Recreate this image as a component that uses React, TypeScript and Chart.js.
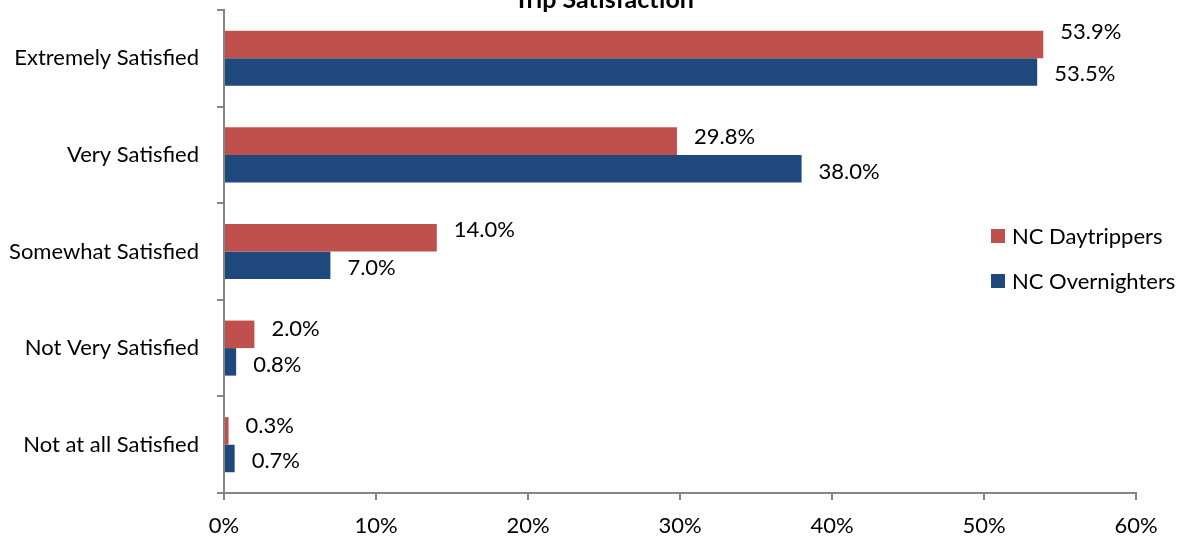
import React, { useEffect, useRef } from "react";
import { Chart, registerables } from "chart.js";

Chart.register(...registerables);

const categories = [
  "Extremely Satisfied",
  "Very Satisfied",
  "Somewhat Satisfied",
  "Not Very Satisfied",
  "Not at all Satisfied",
];
const daytrippers = [53.9, 29.8, 14.0, 2.0, 0.3];
const overnighters = [53.5, 38.0, 7.0, 0.8, 0.7];
const seriesNames = ["NC Daytrippers", "NC Overnighters"];
const xTicks = [0, 10, 20, 30, 40, 50, 60];
const chartTitle = "Trip Satisfaction";

// label vertical nudges (style only)
const labelNudge = [
  [-13, -4, -8, -5, -5],
  [2, 3, 3, 3, 2],
];

const RED = "#C0504D";
const BLUE = "#1F497D";
const FONT = "Lato";
const FS = 22;

const overlay = {
  id: "overlay",
  afterDatasetsDraw(chart: any) {
    const ctx = chart.ctx;
    ctx.save();
    ctx.font = `${FS}px ${FONT}`;
    ctx.fillStyle = "#000";
    ctx.textAlign = "left";
    ctx.textBaseline = "middle";
    chart.data.datasets.forEach((ds: any, di: number) => {
      const meta = chart.getDatasetMeta(di);
      meta.data.forEach((bar: any, i: number) => {
        const v = ds.data[i] as number;
        ctx.fillText(v.toFixed(1) + "%", bar.x + 17, bar.y + labelNudge[di][i]);
      });
    });
    ctx.font = `bold 25px ${FONT}`;
    ctx.textAlign = "center";
    ctx.textBaseline = "alphabetic";
    ctx.fillText(chartTitle, 604, 8);
    const colors = [RED, BLUE];
    const ys = [236, 281];
    ctx.font = `${FS}px ${FONT}`;
    ctx.textAlign = "left";
    ctx.textBaseline = "middle";
    seriesNames.forEach((n, i) => {
      ctx.fillStyle = colors[i];
      ctx.fillRect(991, ys[i] - 7, 14, 14);
      ctx.fillStyle = "#000";
      ctx.fillText(n, 1012, ys[i] + 1);
    });
    ctx.restore();
  },
};

export default function App() {
  const ref = useRef<HTMLCanvasElement>(null);
  useEffect(() => {
    if (!ref.current) return;
    const chart = new Chart(ref.current, {
      type: "bar",
      data: {
        labels: categories,
        datasets: [
          {
            label: seriesNames[0],
            data: daytrippers,
            backgroundColor: RED,
            barPercentage: 1,
            categoryPercentage: 0.57,
          },
          {
            label: seriesNames[1],
            data: overnighters,
            backgroundColor: BLUE,
            barPercentage: 1,
            categoryPercentage: 0.57,
          },
        ],
      },
      options: {
        indexAxis: "y",
        animation: false,
        responsive: false,
        layout: { padding: { top: 10, right: 44, left: 0, bottom: 0 } },
        plugins: {
          legend: { display: false },
          tooltip: { enabled: false },
          title: { display: false },
        },
        scales: {
          x: {
            min: 0,
            max: 60,
            afterFit(scale: any) {
              scale.height = 44;
              scale.paddingLeft = 0;
              scale.paddingRight = 0;
            },
            afterBuildTicks(scale: any) {
              scale.ticks = xTicks.map((v) => ({ value: v }));
            },
            border: { display: true, color: "#868686", width: 2 },
            grid: {
              drawOnChartArea: false,
              drawTicks: true,
              tickLength: 7,
              color: "#868686",
              lineWidth: 2,
            },
            ticks: {
              padding: 13,
              color: "#000",
              font: { family: FONT, size: FS },
              callback: (v: any) => v + "%",
              maxRotation: 0,
            },
          },
          y: {
            afterFit(scale: any) {
              scale.width = 224;
              scale.paddingTop = 0;
              scale.paddingBottom = 0;
            },
            border: { display: true, color: "#868686", width: 2 },
            grid: {
              drawOnChartArea: false,
              drawTicks: true,
              tickLength: 7,
              color: "#868686",
              lineWidth: 2,
              offset: true,
            },
            ticks: {
              padding: 18,
              color: "#000",
              font: { family: FONT, size: FS },
            },
          },
        },
      },
      plugins: [overlay],
    });
    return () => chart.destroy();
  }, []);
  return (
    <div style={{ position: "fixed", left: 0, top: 0, width: 1180, height: 537, background: "#fff" }}>
      <canvas ref={ref} width={1180} height={537} style={{ width: 1180, height: 537 }} />
    </div>
  );
}
